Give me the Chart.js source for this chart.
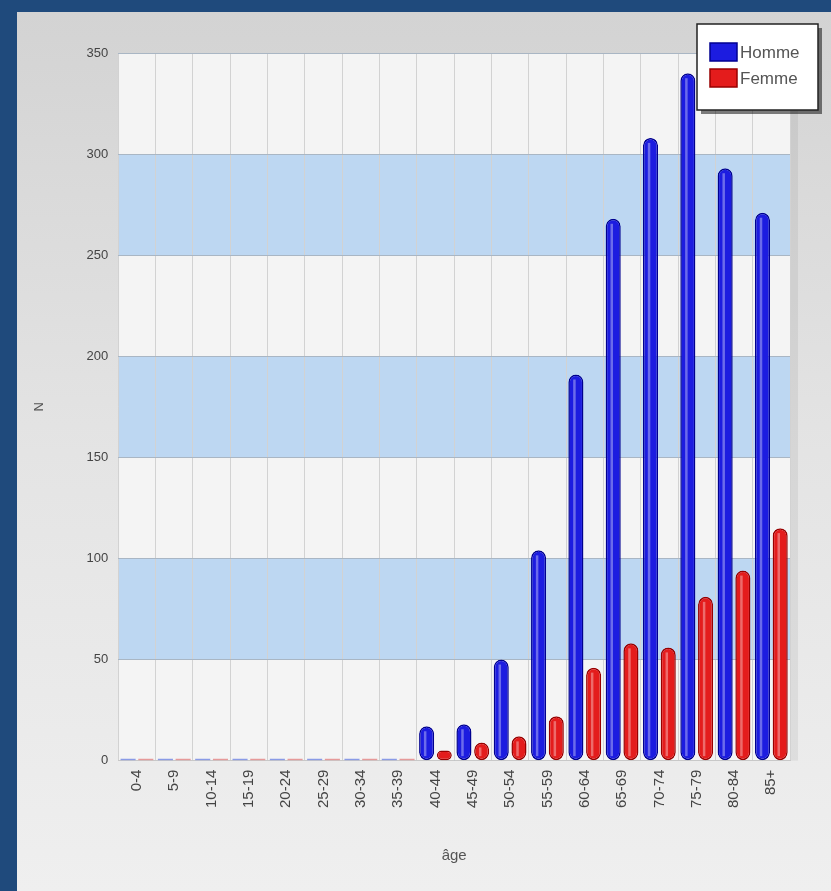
<!DOCTYPE html>
<html>
<head>
<meta charset="utf-8">
<script src="https://cdn.jsdelivr.net/npm/chart.js@4"></script>
<style>
  html, body { margin: 0; padding: 0; background: #1f4a7c; }
  #wrap { width: 831px; height: 891px; position: relative; }
</style>
</head>
<body>
<div id="wrap"><canvas id="ageChart"></canvas></div>
<script>
// Data
const ageLabels = ['0-4', '5-9', '10-14', '15-19', '20-24', '25-29', '30-34', '35-39', '40-44',
    '45-49', '50-54', '55-59', '60-64', '65-69', '70-74', '75-79', '80-84', '85+'];
const hommeData = [0, 0, 0, 0, 0, 0, 0, 0, 17, 18, 50, 104, 191, 268, 308, 340, 293, 271];
const femmeData = [0, 0, 0, 0, 0, 0, 0, 0, 5, 9, 12, 22, 46, 58, 56, 81, 94, 115];
const yTicks = [0, 50, 100, 150, 200, 250, 300, 350];

const blue = '#1c1ce0', blueEdge = '#000090', blueFaint = '#8a9be6';
const red = '#e41c1c', redEdge = '#980000', redFaint = '#e69a9a';

// Background: blue frame, grey panel, striped plot area
const backdrop = {
    id: 'backdrop',
    beforeDraw(chart) {
        const ctx = chart.ctx;
        const area = chart.chartArea;
        const y = chart.scales.y;
        ctx.save();
        ctx.fillStyle = '#1f4a7c';
        ctx.fillRect(0, 0, chart.width, chart.height);
        const g = ctx.createLinearGradient(0, 12, 0, chart.height);
        g.addColorStop(0, '#d3d3d3');
        g.addColorStop(0.5, '#e4e4e4');
        g.addColorStop(1, '#efefef');
        ctx.fillStyle = g;
        ctx.fillRect(17, 12, chart.width - 17, chart.height - 12);
        // shadow right of plot
        ctx.fillStyle = 'rgba(0,0,0,0.06)';
        ctx.fillRect(area.right, area.top + 4, 8, area.bottom - area.top - 4);
        ctx.fillStyle = '#f4f4f4';
        ctx.fillRect(area.left, area.top, area.right - area.left, area.bottom - area.top);
        ctx.fillStyle = '#bdd7f2';
        for (let i = 1; i < yTicks.length - 1; i += 2) {
            const y1 = y.getPixelForValue(yTicks[i]);
            const y2 = y.getPixelForValue(yTicks[i + 1]);
            ctx.fillRect(area.left, y2, area.right - area.left, y1 - y2);
        }
        ctx.restore();
    }
};

// Light stripe on each bar for the tube look
const shine = {
    id: 'shine',
    afterDatasetsDraw(chart) {
        const ctx = chart.ctx;
        ctx.save();
        chart.data.datasets.forEach((ds, i) => {
            chart.getDatasetMeta(i).data.forEach((bar, j) => {
                if (!ds.data[j]) return;
                const h = bar.base - bar.y;
                if (h < 10) return;
                ctx.fillStyle = 'rgba(255,255,255,0.35)';
                ctx.fillRect(bar.x - bar.width * 0.18, bar.y + 5, 2.5, h - 9);
            });
        });
        ctx.restore();
    }
};

// Boxed legend in the top-right corner
const legendItems = [['Homme', blue, blueEdge], ['Femme', red, redEdge]];
const boxLegend = {
    id: 'boxLegend',
    afterDraw(chart) {
        const ctx = chart.ctx;
        const x = 697, y = 24, w = 121, h = 86;
        ctx.save();
        ctx.fillStyle = 'rgba(0,0,0,0.5)';
        ctx.fillRect(x + 4, y + 4, w, h);
        ctx.fillStyle = '#ffffff';
        ctx.fillRect(x, y, w, h);
        ctx.strokeStyle = '#222';
        ctx.lineWidth = 1.5;
        ctx.strokeRect(x, y, w, h);
        ctx.font = '17px "Liberation Sans", Arial, sans-serif';
        ctx.textBaseline = 'middle';
        legendItems.forEach(([label, fill, edge], i) => {
            const sy = y + 19 + i * 26;
            ctx.fillStyle = fill;
            ctx.fillRect(x + 13, sy, 27, 18);
            ctx.strokeStyle = edge;
            ctx.lineWidth = 1.5;
            ctx.strokeRect(x + 13, sy, 27, 18);
            ctx.fillStyle = '#555';
            ctx.fillText(label, x + 43, sy + 10);
        });
        ctx.restore();
    }
};

const tickFont = { family: '"Liberation Sans", Arial, sans-serif', size: 13 };
const xTickFont = { family: '"Liberation Sans", Arial, sans-serif', size: 15 };

new Chart(document.getElementById('ageChart').getContext('2d'), {
    type: 'bar',
    data: {
        labels: ageLabels,
        datasets: [{
            label: 'Homme',
            data: hommeData,
            backgroundColor: c => c.raw ? blue : blueFaint,
            borderColor: blueEdge,
            borderWidth: c => c.raw ? 1.5 : 0,
            borderRadius: c => c.raw ? 8 : 0,
            borderSkipped: false,
            minBarLength: 2
        }, {
            label: 'Femme',
            data: femmeData,
            backgroundColor: c => c.raw ? red : redFaint,
            borderColor: redEdge,
            borderWidth: c => c.raw ? 1.5 : 0,
            borderRadius: c => c.raw ? 8 : 0,
            borderSkipped: false,
            minBarLength: 2
        }]
    },
    options: {
        responsive: true,
        maintainAspectRatio: false,
        animation: false,
        categoryPercentage: 0.95,
        barPercentage: 0.85,
        layout: { padding: { left: 28, top: 53, right: 41, bottom: 22 } },
        plugins: {
            legend: { display: false },
            tooltip: { enabled: false }
        },
        scales: {
            x: {
                grid: { color: '#d2d2d2', offset: true, drawTicks: false },
                border: { color: '#c8c8c8' },
                ticks: { color: '#444', font: xTickFont, minRotation: 90, maxRotation: 90, padding: 9 },
                title: { display: true, text: 'âge', color: '#555', font: xTickFont, padding: { top: 30 } }
            },
            y: {
                min: 0,
                max: 350,
                afterBuildTicks: axis => { axis.ticks = yTicks.map(v => ({ value: v })); },
                grid: { color: '#a9b6c4', drawTicks: false },
                border: { display: false },
                ticks: { color: '#444', font: tickFont, padding: 10 },
                title: { display: true, text: 'N', color: '#555', font: tickFont, padding: { bottom: 29 } }
            }
        }
    },
    plugins: [backdrop, shine, boxLegend]
});
</script>
</body>
</html>
